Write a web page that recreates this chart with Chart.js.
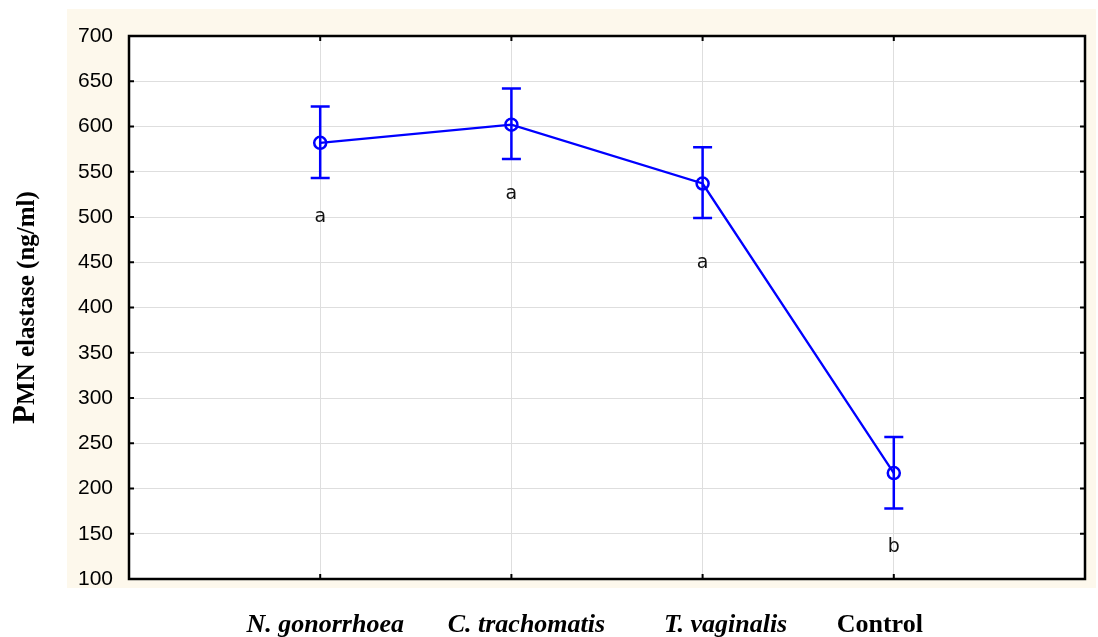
<!DOCTYPE html>
<html>
<head>
<meta charset="utf-8">
<script src="https://cdn.jsdelivr.net/npm/chart.js@4/dist/chart.umd.min.js"></script>
<style>
  html, body { margin: 0; padding: 0; background: #fff; }
  #wrap { width: 1098px; height: 637px; }
</style>
</head>
<body>
<div id="wrap"><canvas id="elastaseChart" width="1098" height="637"></canvas></div>
<script>
// --- data ---
const categories = ['N. gonorrhoea', 'C. trachomatis', 'T. vaginalis', 'Control'];
const means = [582, 602, 537, 217];
const errLow = [543, 564, 499, 178];
const errHigh = [622, 642, 577, 257];
const groupLetters = ['a', 'a', 'a', 'b'];
const letterY = [500, 525, 449, 135];
const yTicks = [100, 150, 200, 250, 300, 350, 400, 450, 500, 550, 600, 650, 700];

// small horizontal nudges for the category captions (px)
const labelNudge = [5, 15, 23, -14];

const BLUE = '#0000ff';
const points = means.map((v, i) => ({ x: i + 1, y: v }));

// cream panel, frame, inward ticks, error bars, letters, captions, y title
const decorPlugin = {
    id: 'decor',
    beforeDraw(chart) {
        const { ctx, chartArea: a } = chart;
        ctx.save();
        ctx.fillStyle = '#fdf8ec';
        ctx.fillRect(a.left - 62, a.top - 27, a.right - a.left + 73, a.bottom - a.top + 36);
        ctx.fillStyle = '#ffffff';
        ctx.fillRect(a.left, a.top, a.right - a.left, a.bottom - a.top);
        ctx.restore();
    },
    afterDatasetsDraw(chart) {
        const { ctx, chartArea: a, scales } = chart;
        const xs = scales.x, ys = scales.y;
        ctx.save();

        // error bars
        ctx.strokeStyle = BLUE;
        ctx.lineWidth = 2.5;
        means.forEach((m, i) => {
            const px = xs.getPixelForValue(i + 1);
            const lo = ys.getPixelForValue(errLow[i]);
            const hi = ys.getPixelForValue(errHigh[i]);
            ctx.beginPath();
            ctx.moveTo(px, lo); ctx.lineTo(px, hi);
            ctx.moveTo(px - 9.5, lo); ctx.lineTo(px + 9.5, lo);
            ctx.moveTo(px - 9.5, hi); ctx.lineTo(px + 9.5, hi);
            ctx.stroke();
        });

        // group letters
        ctx.fillStyle = '#111';
        ctx.font = '19px "DejaVu Sans", sans-serif';
        ctx.textAlign = 'center';
        ctx.textBaseline = 'middle';
        groupLetters.forEach((t, i) => {
            ctx.fillText(t, xs.getPixelForValue(i + 1), ys.getPixelForValue(letterY[i]));
        });

        // category captions under the axis
        ctx.fillStyle = '#000';
        ctx.textBaseline = 'alphabetic';
        categories.forEach((c, i) => {
            const italic = i < categories.length - 1 ? 'italic ' : '';
            ctx.font = italic + 'bold 26px "Liberation Serif", serif';
            ctx.fillText(c, xs.getPixelForValue(i + 1) + labelNudge[i], a.bottom + 53);
        });

        // frame
        ctx.strokeStyle = '#000';
        ctx.lineWidth = 2.5;
        ctx.strokeRect(a.left, a.top, a.right - a.left, a.bottom - a.top);

        // inward ticks
        ctx.lineWidth = 2;
        ctx.beginPath();
        yTicks.forEach(v => {
            const py = ys.getPixelForValue(v);
            ctx.moveTo(a.left, py); ctx.lineTo(a.left + 5, py);
            ctx.moveTo(a.right, py); ctx.lineTo(a.right - 5, py);
        });
        categories.forEach((c, i) => {
            const px = xs.getPixelForValue(i + 1);
            ctx.moveTo(px, a.top); ctx.lineTo(px, a.top + 5);
            ctx.moveTo(px, a.bottom); ctx.lineTo(px, a.bottom - 5);
        });
        ctx.stroke();

        // y axis title with enlarged first letter
        const cy = (a.top + a.bottom) / 2;
        ctx.translate(34, cy);
        ctx.rotate(-Math.PI / 2);
        ctx.textAlign = 'left';
        const big = 'bold 31px "Liberation Serif", serif';
        const small = 'bold 25px "Liberation Serif", serif';
        const first = 'P', rest = 'MN elastase (ng/ml)';
        ctx.font = big;
        const w1 = ctx.measureText(first).width;
        ctx.font = small;
        const w2 = ctx.measureText(rest).width;
        const start = -(w1 + w2) / 2;
        ctx.font = big;
        ctx.fillText(first, start, 0);
        ctx.font = small;
        ctx.fillText(rest, start + w1, 0);
        ctx.restore();
    }
};

new Chart(document.getElementById('elastaseChart'), {
    type: 'line',
    data: {
        datasets: [{
            data: points,
            borderColor: BLUE,
            borderWidth: 2.3,
            backgroundColor: 'rgba(0,0,0,0)',
            pointRadius: 6,
            pointBorderWidth: 2.5,
            pointBorderColor: BLUE,
            pointBackgroundColor: 'rgba(0,0,0,0)',
            tension: 0
        }]
    },
    options: {
        responsive: false,
        animation: false,
        layout: { padding: { top: 36, right: 13, left: 0, bottom: 0 } },
        plugins: { legend: { display: false }, tooltip: { enabled: false } },
        scales: {
            x: {
                type: 'linear',
                min: 0,
                max: 5,
                afterBuildTicks: s => { s.ticks = [0, 1, 2, 3, 4, 5].map(v => ({ value: v })); },
                afterFit: s => { s.height = 58; s.paddingLeft = 0; s.paddingRight = 0; },
                border: { display: false },
                grid: {
                    drawTicks: false,
                    color: ctx => (ctx.tick && ctx.tick.value > 0 && ctx.tick.value < 5) ? '#dedede' : 'rgba(0,0,0,0)',
                    lineWidth: 1
                },
                ticks: { display: false }
            },
            y: {
                min: 100,
                max: 700,
                afterBuildTicks: s => { s.ticks = yTicks.map(v => ({ value: v })); },
                afterFit: s => { s.width = 129; s.paddingTop = 0; s.paddingBottom = 0; },
                border: { display: false },
                grid: { drawTicks: false, color: '#dedede', lineWidth: 1 },
                ticks: {
                    padding: 16,
                    color: '#000',
                    font: { family: '"Liberation Sans", Arial, sans-serif', size: 21 }
                }
            }
        }
    },
    plugins: [decorPlugin]
});
</script>
</body>
</html>
